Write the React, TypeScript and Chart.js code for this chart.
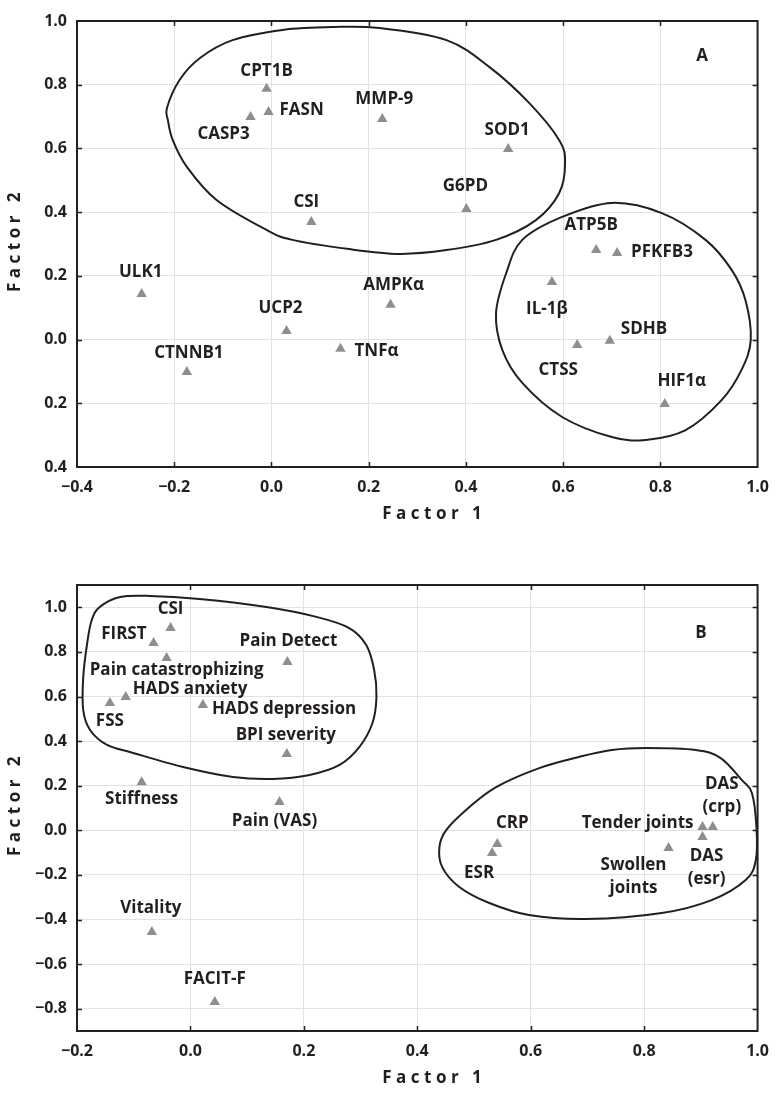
import React, { useEffect, useRef } from "react";
import { Chart, registerables } from "chart.js";

Chart.register(...registerables);

// ---------- Panel A: molecular markers ----------
const namesA = [
  "CPT1B", "FASN", "CASP3", "MMP-9", "CSI", "SOD1", "G6PD", "ATP5B", "PFKFB3",
  "IL-1β", "CTSS", "SDHB", "HIF1α", "AMPKα", "TNFα", "UCP2", "ULK1", "CTNNB1",
];
const factor1A = [
  -0.010, -0.006, -0.043, 0.228, 0.082, 0.487, 0.401, 0.668, 0.711,
  0.577, 0.629, 0.696, 0.809, 0.245, 0.142, 0.031, -0.267, -0.174,
];
const factor2A = [
  0.787, 0.714, 0.699, 0.692, 0.369, 0.598, 0.410, 0.281, 0.272,
  0.181, -0.017, -0.004, -0.202, 0.109, -0.029, 0.027, 0.143, -0.102,
];
const xTickValuesA = [-0.4, -0.2, 0.0, 0.2, 0.4, 0.6, 0.8, 1.0];
const xTickLabelsA = ["−0.4", "−0.2", "0.0", "0.2", "0.4", "0.6", "0.8", "1.0"];
const yTickValuesA = [-0.4, -0.2, 0.0, 0.2, 0.4, 0.6, 0.8, 1.0];
const yTickLabelsA = ["0.4", "0.2", "0.0", "0.2", "0.4", "0.6", "0.8", "1.0"];

// cluster outlines (Factor 1, Factor 2)
const clusterA1: [number, number][] = [
  [-0.215, 0.727], [-0.189, 0.815], [-0.147, 0.884], [-0.080, 0.940], [0.023, 0.972],
  [0.126, 0.981], [0.222, 0.978], [0.360, 0.940], [0.448, 0.856], [0.530, 0.743],
  [0.592, 0.626], [0.604, 0.554], [0.592, 0.460], [0.544, 0.375], [0.462, 0.313],
  [0.360, 0.281], [0.263, 0.269], [0.160, 0.284], [0.043, 0.313], [-0.010, 0.344],
  [-0.113, 0.438], [-0.174, 0.542], [-0.203, 0.626], [-0.213, 0.689],
];
const clusterA2: [number, number][] = [
  [0.700, 0.429], [0.803, 0.397], [0.893, 0.313], [0.947, 0.218], [0.975, 0.124],
  [0.986, -0.001], [0.967, -0.095], [0.926, -0.190], [0.852, -0.284], [0.770, -0.315],
  [0.700, -0.306], [0.598, -0.243], [0.516, -0.136], [0.475, -0.033], [0.462, 0.083],
  [0.483, 0.209], [0.516, 0.313], [0.598, 0.385],
];

// ---------- Panel B: clinical measures ----------
const namesB = [
  "CSI", "FIRST", "Pain catastrophizing", "Pain Detect", "HADS anxiety", "FSS",
  "HADS depression", "BPI severity", "Stiffness", "Pain (VAS)", "Vitality", "FACIT-F",
  "CRP", "ESR", "Tender joints", "DAS\n(crp)", "DAS\n(esr)", "Swollen\njoints",
];
const factor1B = [
  -0.035, -0.065, -0.042, 0.171, -0.114, -0.142,
  0.022, 0.170, -0.086, 0.157, -0.068, 0.043,
  0.541, 0.532, 0.903, 0.921, 0.903, 0.843,
];
const factor2B = [
  0.907, 0.840, 0.773, 0.755, 0.598, 0.571,
  0.562, 0.342, 0.215, 0.127, -0.456, -0.770,
  -0.061, -0.102, 0.015, 0.015, -0.030, -0.079,
];
const xTickValuesB = [-0.2, 0.0, 0.2, 0.4, 0.6, 0.8, 1.0];
const xTickLabelsB = ["−0.2", "0.0", "0.2", "0.4", "0.6", "0.8", "1.0"];
const yTickValuesB = [-0.8, -0.6, -0.4, -0.2, 0.0, 0.2, 0.4, 0.6, 0.8, 1.0];
const yTickLabelsB = ["−0.8", "−0.6", "−0.4", "−0.2", "0.0", "0.2", "0.4", "0.6", "0.8", "1.0"];

const clusterB1: [number, number][] = [
  [-0.160, 1.001], [-0.124, 1.046], [-0.072, 1.051], [0.016, 1.037], [0.134, 1.001],
  [0.222, 0.957], [0.280, 0.907], [0.310, 0.831], [0.324, 0.719], [0.328, 0.598],
  [0.321, 0.481], [0.298, 0.374], [0.263, 0.293], [0.210, 0.248], [0.145, 0.230],
  [0.075, 0.239], [-0.013, 0.284], [-0.101, 0.347], [-0.147, 0.383], [-0.177, 0.450],
  [-0.189, 0.539], [-0.189, 0.687], [-0.182, 0.840], [-0.174, 0.943],
];
const clusterB2: [number, number][] = [
  [0.615, 0.279], [0.685, 0.329], [0.743, 0.360], [0.803, 0.369], [0.891, 0.360],
  [0.935, 0.324], [0.972, 0.226], [0.990, 0.167], [0.998, 0.015], [0.997, -0.133],
  [0.979, -0.223], [0.919, -0.313], [0.831, -0.371], [0.697, -0.398], [0.597, -0.380],
  [0.527, -0.326], [0.474, -0.254], [0.444, -0.165], [0.439, -0.075], [0.451, 0.001],
  [0.492, 0.104], [0.539, 0.194],
];

// ---------- label placement (pixel offsets from each marker) ----------
type Placement = { dx: number; dy: number; align: CanvasTextAlign };
const placeA: Placement[] = [
  { dx: 0, dy: -18, align: "center" },
  { dx: 11, dy: -2, align: "left" },
  { dx: -27, dy: 17, align: "center" },
  { dx: 2, dy: -20, align: "center" },
  { dx: -5, dy: -20, align: "center" },
  { dx: -1, dy: -19, align: "center" },
  { dx: -1, dy: -23, align: "center" },
  { dx: -5, dy: -25, align: "center" },
  { dx: 14, dy: -1, align: "left" },
  { dx: -5, dy: 27, align: "center" },
  { dx: -19, dy: 25, align: "center" },
  { dx: 11, dy: -12, align: "left" },
  { dx: 17, dy: -23, align: "center" },
  { dx: 3, dy: -20, align: "center" },
  { dx: 14, dy: 2, align: "left" },
  { dx: -6, dy: -23, align: "center" },
  { dx: -1, dy: -22, align: "center" },
  { dx: 2, dy: -19, align: "center" },
];
const placeB: Placement[] = [
  { dx: 0, dy: -19, align: "center" },
  { dx: -7, dy: -9, align: "right" },
  { dx: 10, dy: 12, align: "center" },
  { dx: 1, dy: -21, align: "center" },
  { dx: 7, dy: -8, align: "left" },
  { dx: 0, dy: 18, align: "center" },
  { dx: 9, dy: 4, align: "left" },
  { dx: -1, dy: -19, align: "center" },
  { dx: 0, dy: 17, align: "center" },
  { dx: -5, dy: 19, align: "center" },
  { dx: -1, dy: -24, align: "center" },
  { dx: 0, dy: -23, align: "center" },
  { dx: 15, dy: -21, align: "center" },
  { dx: -13, dy: 20, align: "center" },
  { dx: -9, dy: -4, align: "right" },
  { dx: 9, dy: -43, align: "center" },
  { dx: 4, dy: 19, align: "center" },
  { dx: -35, dy: 17, align: "center" },
];

const INK = "#231f20";
const MARKER = "#8e8e8e";
const GRID = "#e2e2e2";
const FONT_FAMILY = "'Open Sans', 'Noto Sans', sans-serif";

type PanelSpec = {
  names: string[];
  xs: number[];
  ys: number[];
  place: Placement[];
  outlines: [number, number][][];
  xRange: [number, number];
  yRange: [number, number];
  xTickValues: number[];
  xTickLabels: string[];
  yTickValues: number[];
  yTickLabels: string[];
  letter: string;
  letterAt: [number, number];
  height: number;
  padTop: number;
  xAxisHeight: number;
};

function strokeClosedSpline(ctx: CanvasRenderingContext2D, pts: [number, number][]) {
  const n = pts.length;
  ctx.beginPath();
  ctx.moveTo(pts[0][0], pts[0][1]);
  for (let i = 0; i < n; i++) {
    const p0 = pts[(i - 1 + n) % n];
    const p1 = pts[i];
    const p2 = pts[(i + 1) % n];
    const p3 = pts[(i + 2) % n];
    ctx.bezierCurveTo(
      p1[0] + (p2[0] - p0[0]) / 6, p1[1] + (p2[1] - p0[1]) / 6,
      p2[0] - (p3[0] - p1[0]) / 6, p2[1] - (p3[1] - p1[1]) / 6,
      p2[0], p2[1]
    );
  }
  ctx.closePath();
  ctx.stroke();
}

function lookupLabel(values: number[], labels: string[], v: number) {
  let best = 0;
  for (let i = 1; i < values.length; i++) {
    if (Math.abs(values[i] - v) < Math.abs(values[best] - v)) best = i;
  }
  return Math.abs(values[best] - v) < 1e-6 ? labels[best] : "";
}

function overlayPlugin(spec: PanelSpec) {
  return {
    id: "factorOverlay",
    beforeDatasetsDraw(chart: any) {
      const { ctx } = chart;
      const xs = chart.scales.x;
      const ys = chart.scales.y;
      ctx.save();
      ctx.strokeStyle = INK;
      ctx.lineWidth = 2;
      for (const outline of spec.outlines) {
        const pts = outline.map(
          ([a, b]) => [xs.getPixelForValue(a), ys.getPixelForValue(b)] as [number, number]
        );
        strokeClosedSpline(ctx, pts);
      }
      ctx.restore();
    },
    afterDatasetsDraw(chart: any) {
      const { ctx, chartArea } = chart;
      const xs = chart.scales.x;
      const ys = chart.scales.y;
      ctx.save();

      // point labels
      ctx.fillStyle = INK;
      ctx.font = `bold 17px ${FONT_FAMILY}`;
      ctx.textBaseline = "middle";
      spec.names.forEach((name, i) => {
        const px = xs.getPixelForValue(spec.xs[i]);
        const py = ys.getPixelForValue(spec.ys[i]);
        const p = spec.place[i];
        ctx.textAlign = p.align;
        name.split("\n").forEach((line, k) => {
          ctx.fillText(line, px + p.dx, py + p.dy + k * 23);
        });
      });

      // panel letter
      ctx.font = `bold 17px ${FONT_FAMILY}`;
      ctx.textAlign = "center";
      ctx.fillText(
        spec.letter,
        xs.getPixelForValue(spec.letterAt[0]),
        ys.getPixelForValue(spec.letterAt[1])
      );

      // frame with inward tick marks
      ctx.strokeStyle = INK;
      ctx.lineWidth = 2;
      ctx.strokeRect(
        chartArea.left, chartArea.top,
        chartArea.right - chartArea.left, chartArea.bottom - chartArea.top
      );
      ctx.lineWidth = 1.5;
      ctx.beginPath();
      for (const v of spec.xTickValues) {
        const x = Math.round(xs.getPixelForValue(v)) + 0.5;
        if (x <= chartArea.left + 2 || x >= chartArea.right - 2) continue;
        ctx.moveTo(x, chartArea.top);
        ctx.lineTo(x, chartArea.top + 5);
        ctx.moveTo(x, chartArea.bottom);
        ctx.lineTo(x, chartArea.bottom - 5);
      }
      for (const v of spec.yTickValues) {
        const y = Math.round(ys.getPixelForValue(v)) + 0.5;
        if (y <= chartArea.top + 2 || y >= chartArea.bottom - 2) continue;
        ctx.moveTo(chartArea.left, y);
        ctx.lineTo(chartArea.left + 5, y);
        ctx.moveTo(chartArea.right, y);
        ctx.lineTo(chartArea.right - 5, y);
      }
      ctx.stroke();

      // axis titles, letter-spaced
      ctx.font = `bold 17px ${FONT_FAMILY}`;
      (ctx as any).letterSpacing = "4.5px";
      ctx.textAlign = "center";
      ctx.textBaseline = "middle";
      ctx.fillText("Factor 1", (chartArea.left + chartArea.right) / 2 + 17, chartArea.bottom + 47);
      ctx.translate(15, (chartArea.top + chartArea.bottom) / 2);
      ctx.rotate(-Math.PI / 2);
      ctx.fillText("Factor 2", 4, 0);
      ctx.restore();
    },
  };
}

function buildConfig(spec: PanelSpec): any {
  const tickFont = { family: FONT_FAMILY, size: 16, weight: "bold" as const };
  return {
    type: "scatter",
    data: {
      datasets: [
        {
          data: spec.xs.map((x, i) => ({ x, y: spec.ys[i] })),
          pointStyle: "triangle",
          pointRadius: 6,
          pointHoverRadius: 6,
          backgroundColor: MARKER,
          borderWidth: 0,
        },
      ],
    },
    options: {
      responsive: false,
      animation: false,
      devicePixelRatio: 1,
      layout: { padding: { top: spec.padTop, right: 21, left: 0, bottom: 0 } },
      plugins: { legend: { display: false }, tooltip: { enabled: false } },
      scales: {
        x: {
          type: "linear",
          min: spec.xRange[0],
          max: spec.xRange[1],
          afterFit: (s: any) => { s.height = spec.xAxisHeight; },
          afterBuildTicks: (s: any) => { s.ticks = spec.xTickValues.map((value) => ({ value })); },
          grid: { color: GRID, lineWidth: 1, drawTicks: false },
          border: { display: false },
          ticks: {
            padding: 11,
            color: INK,
            font: tickFont,
            maxRotation: 0,
            callback: (v: number) => lookupLabel(spec.xTickValues, spec.xTickLabels, v),
          },
        },
        y: {
          type: "linear",
          min: spec.yRange[0],
          max: spec.yRange[1],
          afterFit: (s: any) => { s.width = 77; },
          afterBuildTicks: (s: any) => { s.ticks = spec.yTickValues.map((value) => ({ value })); },
          grid: { color: GRID, lineWidth: 1, drawTicks: false },
          border: { display: false },
          ticks: {
            padding: 10,
            color: INK,
            font: tickFont,
            callback: (v: number) => lookupLabel(spec.yTickValues, spec.yTickLabels, v),
          },
        },
      },
    },
    plugins: [overlayPlugin(spec)],
  };
}

const panelA: PanelSpec = {
  names: namesA, xs: factor1A, ys: factor2A, place: placeA,
  outlines: [clusterA1, clusterA2],
  xRange: [-0.4, 1.0], yRange: [-0.4, 1.0],
  xTickValues: xTickValuesA, xTickLabels: xTickLabelsA,
  yTickValues: yTickValuesA, yTickLabels: yTickLabelsA,
  letter: "A", letterAt: [0.886, 0.89],
  height: 540, padTop: 21, xAxisHeight: 73,
};

const panelB: PanelSpec = {
  names: namesB, xs: factor1B, ys: factor2B, place: placeB,
  outlines: [clusterB1, clusterB2],
  xRange: [-0.2, 1.0], yRange: [-0.9, 1.1],
  xTickValues: xTickValuesB, xTickLabels: xTickLabelsB,
  yTickValues: yTickValuesB, yTickLabels: yTickLabelsB,
  letter: "B", letterAt: [0.900, 0.885],
  height: 553, padTop: 45, xAxisHeight: 62,
};

function FactorPlot({ spec }: { spec: PanelSpec }) {
  const ref = useRef<HTMLCanvasElement>(null);
  useEffect(() => {
    const chart = new Chart(ref.current as HTMLCanvasElement, buildConfig(spec));
    return () => chart.destroy();
  }, [spec]);
  return (
    <canvas
      ref={ref}
      width={780}
      height={spec.height}
      style={{ display: "block", width: 780, height: spec.height }}
    />
  );
}

export default function App() {
  return (
    <div
      style={{
        position: "absolute",
        left: 0,
        top: 0,
        width: 780,
        height: 1093,
        background: "#ffffff",
      }}
    >
      <FactorPlot spec={panelA} />
      <FactorPlot spec={panelB} />
    </div>
  );
}
